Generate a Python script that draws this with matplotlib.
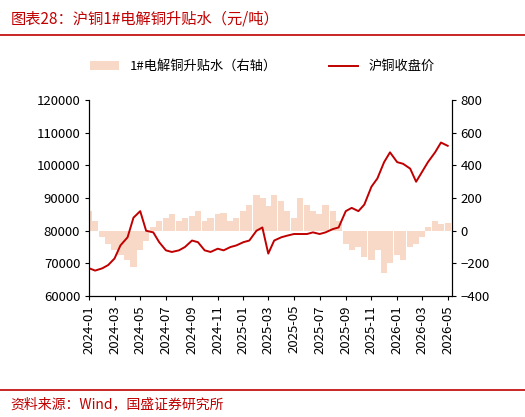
import matplotlib
matplotlib.use("Agg")
import matplotlib.pyplot as plt
import matplotlib.dates as mdates
import pandas as pd

plt.rcParams['font.family'] = ['Noto Sans CJK SC', 'DejaVu Sans']

price = [68500, 67800, 68500, 69500, 71500, 75500, 78000, 84000, 86000, 80000, 79500, 76500,
         74000, 73500, 74000, 75000, 77000, 76500, 74000, 73500, 74500, 74000, 75000, 75500,
         76500, 77000, 80000, 81000, 73000, 77000, 78000, 78500, 79000, 79000, 79000, 79500,
         79000, 79500, 80500, 81000, 86000, 87000, 86000, 88000, 93500, 96000, 101000, 104000,
         101000, 100500, 99000, 95000, 98000, 101000, 104000, 107000, 106000]
premium = [120, 60, -40, -80, -120, -150, -180, -220, -120, -60, 20, 60,
           80, 100, 60, 80, 90, 120, 60, 80, 100, 110, 60, 80,
           120, 160, 220, 200, 150, 220, 180, 120, 80, 200, 160, 120,
           100, 160, 120, 60, -80, -120, -100, -160, -180, -120, -260, -200,
           -150, -180, -100, -80, -40, 20, 60, 40, 50]
dates = pd.date_range("2024-01-01", periods=len(price), freq="SMS")

fig = plt.figure(figsize=(5.25, 4.17), dpi=100)
ax2 = fig.add_axes([0.17, 0.29, 0.69, 0.47])
ax = ax2.twinx()
ax2.yaxis.tick_right(); ax2.yaxis.set_label_position("right")
ax.yaxis.tick_left(); ax.yaxis.set_label_position("left")

ax2.bar(dates, premium, width=15, color='#F8D9C8', label='1#电解铜升贴水（右轴）')
ax.plot(dates, price, color='#C00000', lw=1.4, label='沪铜收盘价')

ax.set_ylim(60000, 120000)
ax2.set_ylim(-400, 800)
ax2.set_xlim(pd.Timestamp("2024-01-01"), pd.Timestamp("2026-05-10"))
ax2.xaxis.set_major_locator(mdates.MonthLocator(bymonth=[1,3,5,7,9,11]))
ax2.xaxis.set_major_formatter(mdates.DateFormatter("%Y-%m"))
for lbl in ax2.get_xticklabels():
    lbl.set_rotation(90)
for a in (ax, ax2):
    a.tick_params(labelsize=9.5, length=3)
    for s in a.spines.values():
        s.set_color('black')
    a.spines['top'].set_visible(False)

h1, l1 = ax2.get_legend_handles_labels()
h2, l2 = ax.get_legend_handles_labels()
fig.legend(h1 + h2, l1 + l2, loc='center', bbox_to_anchor=(0.5, 0.84), ncol=2,
           frameon=False, fontsize=9.5, handlelength=2.2, columnspacing=4)

fig.text(0.02, 0.955, "图表28：沪铜1#电解铜升贴水（元/吨）", color='#C00000', fontsize=11, style='italic', va='center')
fig.add_artist(plt.Line2D([0.0, 1.0], [0.915, 0.915], color='#C00000', lw=1.2))
fig.add_artist(plt.Line2D([0.0, 1.0], [0.065, 0.065], color='#C00000', lw=1.2))
fig.text(0.02, 0.03, "资料来源：Wind，国盛证券研究所", color='#C00000', fontsize=10, style='italic', va='center')

fig.savefig("out.png", dpi=100)
